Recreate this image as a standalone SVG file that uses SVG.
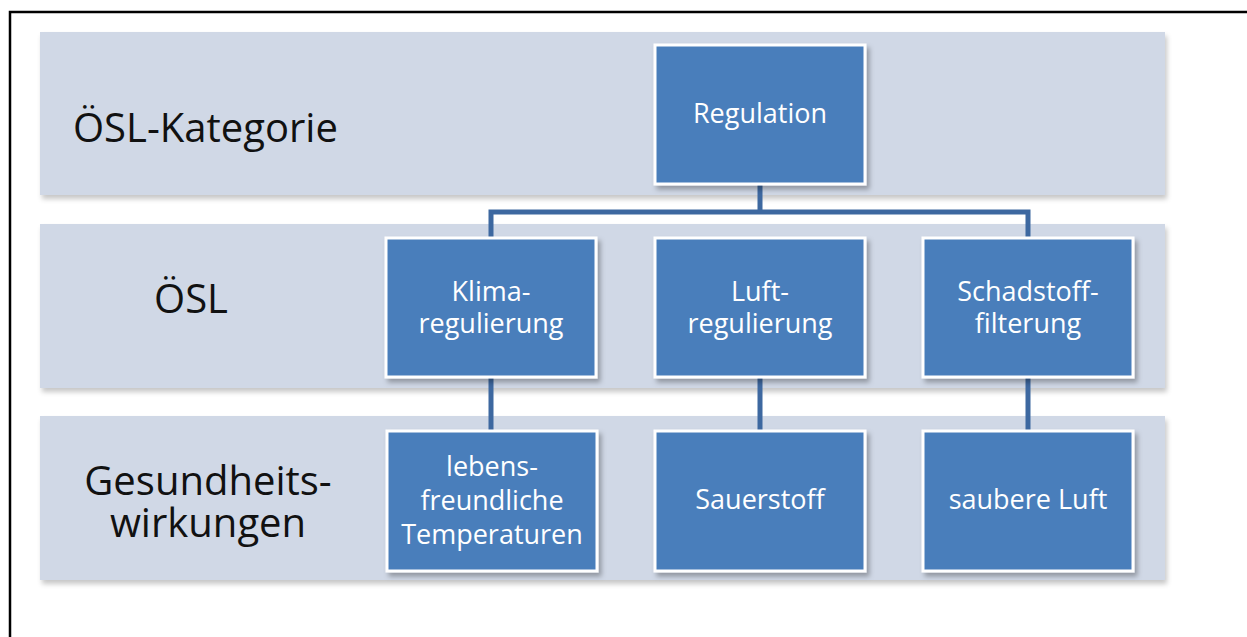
<svg xmlns="http://www.w3.org/2000/svg" width="1247" height="637" viewBox="0 0 1247 637">
<defs>
<filter id="sh" x="-5%" y="-5%" width="115%" height="120%">
<feDropShadow dx="3" dy="4" stdDeviation="2.5" flood-color="#000" flood-opacity="0.3"/>
</filter>
<filter id="shb" x="-2%" y="-5%" width="105%" height="120%">
<feDropShadow dx="2" dy="4" stdDeviation="2.5" flood-color="#000" flood-opacity="0.22"/>
</filter>
</defs>
<style>
.band{fill:#d0d8e6;}
.box{fill:#4a7ebb;stroke:#fff;stroke-width:3;}
.lbl{font-family:"Open Sans","Noto Sans",sans-serif;font-size:40px;fill:#111;}
.bt{font-family:"Open Sans","Noto Sans",sans-serif;font-size:27px;fill:#fff;text-anchor:middle;}
.con{stroke:#3d68a0;stroke-width:5;fill:none;}
</style>
<rect x="0" y="0" width="1247" height="637" fill="#fff"/>
<rect x="10" y="12" width="1250" height="640" fill="none" stroke="#000" stroke-width="2.5"/>
<g id="bands">
<rect class="band" x="40" y="32" width="1125" height="163" filter="url(#shb)"/>
<rect class="band" x="40" y="224" width="1125" height="164" filter="url(#shb)"/>
<rect class="band" x="40" y="416" width="1125" height="164" filter="url(#shb)"/>
<text class="lbl" x="73" y="142">ÖSL-Kategorie</text>
<text class="lbl" x="191" y="313" text-anchor="middle">ÖSL</text>
<text class="lbl" x="208" y="495" text-anchor="middle">Gesundheits-</text>
<text class="lbl" x="208" y="537" text-anchor="middle">wirkungen</text>
</g>
<g id="connectors">
<path class="con" d="M760 184 V212 M491 238 V212 H1028 V238"/>
<path class="con" d="M491 377 V431 M760 377 V431 M1028 377 V431"/>
</g>
<g id="n-regulation">
<rect class="box" x="655" y="45" width="210" height="139" filter="url(#sh)"/>
<text class="bt" x="760" y="123">Regulation</text>
</g>
<g id="n-klima">
<rect class="box" x="386" y="238" width="210" height="139" filter="url(#sh)"/>
<text class="bt" x="491" y="301">Klima-</text>
<text class="bt" x="491" y="333">regulierung</text>
</g>
<g id="n-luft">
<rect class="box" x="655" y="238" width="210" height="139" filter="url(#sh)"/>
<text class="bt" x="760" y="301">Luft-</text>
<text class="bt" x="760" y="333">regulierung</text>
</g>
<g id="n-schadstoff">
<rect class="box" x="923" y="238" width="210" height="139" filter="url(#sh)"/>
<text class="bt" x="1028" y="301">Schadstoff-</text>
<text class="bt" x="1028" y="333">filterung</text>
</g>
<g id="n-lebens">
<rect class="box" x="387" y="431" width="210" height="140" filter="url(#sh)"/>
<text class="bt" x="492" y="476">lebens-</text>
<text class="bt" x="492" y="510">freundliche</text>
<text class="bt" x="492" y="544">Temperaturen</text>
</g>
<g id="n-sauerstoff">
<rect class="box" x="655" y="431" width="210" height="140" filter="url(#sh)"/>
<text class="bt" x="760" y="509">Sauerstoff</text>
</g>
<g id="n-saubere">
<rect class="box" x="923" y="431" width="210" height="140" filter="url(#sh)"/>
<text class="bt" x="1028" y="509">saubere Luft</text>
</g>
</svg>
